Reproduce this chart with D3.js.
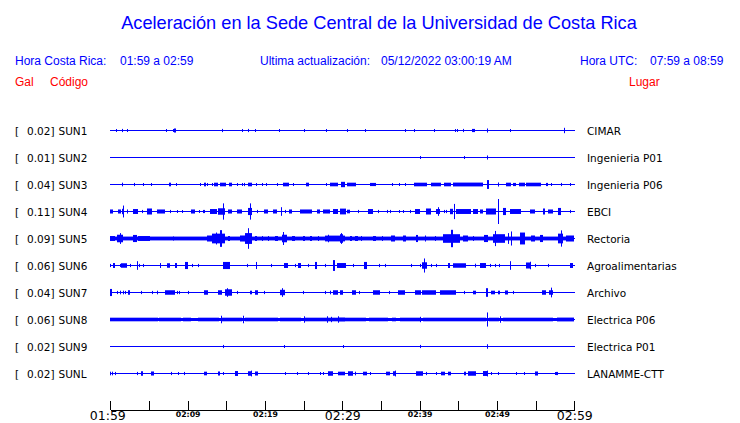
<!DOCTYPE html>
<html><head><meta charset="utf-8">
<script src="https://cdn.jsdelivr.net/npm/d3@7"></script>
<style>
html,body{margin:0;padding:0;background:#fff;}
svg{display:block;}
</style></head>
<body>
<script>
// ---- data ----
const stationCodes = ["SUN1","SUN2","SUN3","SUN4","SUN5","SUN6","SUN7","SUN8","SUN9","SUNL"];
const stationGal = ["0.02","0.01","0.04","0.11","0.09","0.06","0.04","0.06","0.02","0.02"];
const stationPlaces = ["CIMAR","Ingenieria P01","Ingenieria P06","EBCI","Rectoria","Agroalimentarias","Archivo","Electrica P06","Electrica P01","LANAMME-CTT"];
const tickMinutes = [0,5,10,15,20,25,30,35,40,45,50,55,60];
const tickLabels = ["01:59","","02:09","","02:19","","02:29","","02:39","","02:49","","02:59"];
const majorLabels = ["01:59","02:29","02:59"];

// bursts: [start minute, end minute, amplitude (gal)]
const sun1 = [[0.7,0.7,0.008],[1.5,1.7,0.01],[2.1,2.1,0.008],[7.24,7.24,0.008],[8.06,8.06,0.008],[8.3,8.5,0.014],
 [14.47,14.47,0.01],[16.98,16.98,0.008],[17.83,17.83,0.01],[18.73,18.73,0.008],[21.83,21.83,0.008],[24.99,24.99,0.006],
 [27.91,27.91,0.006],[30.62,30.62,0.008],[32.95,32.95,0.008],[38.11,38.11,0.006],[39.28,39.28,0.008],[41.91,41.91,0.006],
 [44.63,44.63,0.008],[44.84,44.84,0.008],[45.6,45.8,0.01],[46.8,47.1,0.01],[48.7,48.8,0.014],[51.68,51.68,0.008],[58.66,58.66,0.02]];
const sun2 = [[40.05,40.05,0.008],[45.74,45.74,0.005],[48.7,48.8,0.014]];
const sun3 = [[1.5,1.7,0.012],[3.0,3.0,0.01],[4.26,4.26,0.006],[5.3,5.3,0.006],[7.6,7.8,0.012],[8.53,8.53,0.006],[11.55,11.55,0.008],
 [12.1,12.4,0.012],[12.53,12.53,0.008],[13.1,13.1,0.008],[13.44,13.88,0.012],[14.17,14.91,0.012],[15.34,15.76,0.012],
 [16.33,16.33,0.008],[16.98,16.98,0.008],[17.27,17.4,0.01],[17.83,18.27,0.012],[18.79,18.79,0.008],[19.56,19.56,0.008],
 [20.16,20.16,0.006],[21.5,21.5,0.008],[22.27,23.13,0.012],[23.57,23.57,0.008],[25.32,25.67,0.012],[27.91,27.91,0.008],
 [28.42,29.46,0.012],[29.8,30.32,0.02],[30.62,31.83,0.012],[33.64,34.33,0.01],[36.43,36.43,0.006],[37.34,37.34,0.006],
 [38.11,38.11,0.008],[39.24,40.96,0.012],[41.52,42.82,0.012],[43.15,44.11,0.012],[44.32,48.19,0.013],[48.67,48.93,0.036],
 [50.13,50.13,0.014],[51.21,51.86,0.012],[52.07,52.51,0.01],[52.84,53.58,0.012],[53.8,55.74,0.012],[56.38,56.59,0.01],
 [57.03,57.03,0.008],[58.32,58.32,0.01],[59.4,59.4,0.008]];
const sun4 = [[0,0.39,0.014],[0.96,1.38,0.014],[1.55,1.81,0.02],[1.65,1.7,0.05],[2.12,2.33,0.014],[2.97,3.62,0.018],[4.06,4.06,0.01],
 [4.7,5.35,0.023],[5.99,7.07,0.014],[7.71,7.71,0.01],[8.58,8.58,0.008],[9.3,9.3,0.008],[10.43,10.94,0.014],[11.5,11.5,0.008],
 [12.02,12.24,0.01],[12.88,13.75,0.018],[13.95,14.82,0.025],[14.55,14.7,0.07],[15.25,15.68,0.014],[16.33,17.05,0.014],
 [17.75,18.27,0.028],[18.05,18.15,0.07],[18.91,18.91,0.01],[19.9,20.41,0.014],[21.06,21.5,0.014],[22.01,22.22,0.035],
 [22.57,22.57,0.01],[23.09,23.51,0.014],[24.51,26.02,0.014],[26.67,27.09,0.014],[27.52,28.39,0.014],[28.81,29.46,0.018],
 [29.7,30.5,0.022],[30.58,30.97,0.012],[32.04,32.04,0.01],[33.33,33.98,0.018],[34.63,34.63,0.01],[35.79,35.79,0.01],
 [36.14,36.14,0.01],[37.34,37.34,0.008],[37.86,37.86,0.008],[38.72,38.72,0.01],[39.37,40.01,0.018],[40.79,41.52,0.023],
 [42.17,42.69,0.018],[42.43,42.43,0.035],[43.11,43.11,0.01],[43.46,43.46,0.01],[43.89,44.32,0.02],[44.45,44.55,0.065],
 [44.75,46.69,0.018],[46.9,47.55,0.018],[47.77,48.19,0.014],[48.63,49.92,0.023],[50.13,50.13,0.11],[50.78,51.22,0.028],
 [51.64,53.15,0.018],[54.23,54.87,0.014],[55.95,56.16,0.023],[56.59,57.24,0.014],[57.88,58.32,0.028],[59.4,59.4,0.01]];
const sun5 = [[0,60,0.013],[0,0.61,0.018],[0.83,1.68,0.03],[1.2,1.3,0.045],[2.97,3.41,0.028],[3.62,5.13,0.018],[8.14,8.14,0.014],
 [12.46,13.1,0.023],[13.1,14.82,0.04],[14.25,14.4,0.072],[13.7,13.8,0.05],[15.25,15.47,0.018],[16.76,17.4,0.023],[17.4,18.27,0.045],
 [17.8,17.9,0.09],[18.7,18.91,0.018],[19.56,19.56,0.018],[20.41,20.41,0.018],[21.28,21.71,0.018],[22.14,22.79,0.03],
 [22.35,22.45,0.055],[23.44,23.86,0.018],[24.94,25.16,0.018],[25.8,26.02,0.018],[26.87,26.87,0.018],[27.74,30.32,0.022],
 [28.17,28.17,0.03],[29.8,29.8,0.045],[29.64,30.1,0.035],[30.97,31.19,0.018],[31.62,32.04,0.018],[32.48,32.48,0.018],
 [33.98,34.42,0.018],[35.07,35.07,0.018],[36.36,36.78,0.023],[37.86,38.3,0.023],[39.59,39.8,0.028],[40.66,40.66,0.023],
 [41.95,41.95,0.018],[43.02,45.18,0.035],[44.1,44.3,0.075],[45.61,46.25,0.023],[46.9,46.9,0.018],[48.28,48.84,0.028],
 [49.48,50.99,0.035],[49.7,49.85,0.065],[51.42,51.42,0.045],[51.86,51.86,0.06],[52.94,53.58,0.05],[54.44,54.87,0.023],
 [55.52,55.95,0.028],[57.88,58.53,0.04],[58.25,58.35,0.07],[58.97,60,0.023]];
const sun6 = [[0,0,0.01],[0.39,0.61,0.018],[1.25,1.25,0.01],[1.38,2.12,0.016],[2.55,2.55,0.01],[3.41,3.41,0.035],[3.71,3.71,0.01],
 [4.26,4.26,0.01],[6.42,6.42,0.018],[7.29,7.71,0.016],[8.36,8.58,0.018],[9.65,10.08,0.028],[10.59,10.59,0.01],[11.37,11.37,0.01],
 [14.6,15.47,0.028],[17.62,17.62,0.01],[18.79,18.99,0.028],[20.76,20.76,0.01],[22.44,23.0,0.018],[23.86,23.86,0.01],
 [24.21,24.64,0.018],[25.58,25.58,0.01],[26.45,26.75,0.028],[27.74,27.74,0.01],[28.81,29.03,0.045],[29.25,30.5,0.018],
 [31.4,31.4,0.01],[32.78,33.13,0.028],[34.75,34.75,0.01],[35.58,35.58,0.01],[38.94,38.94,0.01],[40.01,40.01,0.01],
 [40.36,40.96,0.025],[40.62,40.72,0.06],[41.52,41.52,0.01],[42.08,42.08,0.01],[43.67,43.89,0.018],[44.32,46.05,0.016],
 [47.12,47.34,0.012],[47.77,48.63,0.018],[49.06,49.06,0.01],[49.7,49.7,0.01],[50.26,50.26,0.01],[51.64,51.86,0.035],
 [53.8,54.44,0.023],[54.23,54.23,0.03],[54.87,54.87,0.01],[56.59,56.59,0.01],[59.4,59.82,0.018]];
const sun7 = [[0,0.26,0.028],[0.83,0.83,0.01],[1.25,1.25,0.012],[1.68,1.68,0.012],[1.9,1.9,0.01],[2.33,2.55,0.016],[3.97,3.97,0.01],
 [5.35,5.35,0.01],[5.99,6.2,0.012],[7.07,8.36,0.016],[8.58,8.58,0.01],[8.88,8.88,0.01],[10.0,10.0,0.01],[12.14,12.66,0.016],
 [13.95,14.39,0.016],[14.82,15.68,0.025],[15.12,15.12,0.035],[16.33,16.33,0.01],[18.05,18.27,0.012],[18.7,19.12,0.016],
 [19.9,19.9,0.01],[21.93,22.57,0.02],[22.14,22.14,0.035],[24.94,24.94,0.01],[27.74,27.74,0.01],[28.39,28.6,0.012],
 [28.81,29.46,0.016],[29.67,30.1,0.016],[31.19,31.83,0.016],[32.17,32.17,0.01],[33.98,34.85,0.016],[36.05,36.05,0.01],
 [37.21,38.08,0.016],[39.37,40.23,0.016],[40.36,42.17,0.016],[42.6,44.75,0.016],[45.7,45.7,0.01],[46.9,47.34,0.012],
 [48.63,48.84,0.035],[49.28,49.7,0.012],[50.13,50.35,0.012],[50.99,51.42,0.014],[52.07,52.07,0.01],[55.87,56.38,0.016],
 [56.68,57.24,0.016],[57.03,57.03,0.04]];
const sun8 = [[0,60,0.009],[0,6.2,0.012],[6.3,9.2,0.012],[9.4,10.5,0.012],[11.4,14.0,0.012],[14.26,14.3,0.03],[14.4,17.0,0.012],
 [17.2,17.2,0.03],[17.4,21.7,0.012],[21.9,24.7,0.012],[25.0,25.0,0.025],[25.2,30.3,0.012],[27.96,27.96,0.025],[28.6,28.6,0.02],
 [29.46,29.46,0.025],[29.6,33.1,0.012],[33.5,35.9,0.012],[36.4,37.0,0.012],[37.4,40.0,0.012],[40.0,40.0,0.02],[40.4,48.6,0.012],
 [48.7,48.9,0.06],[49.0,50.3,0.012],[50.35,50.35,0.025],[50.8,57.2,0.012],[57.7,60,0.013]];
const sun9 = [[14.6,14.6,0.01],[22.48,22.48,0.008],[30.1,30.1,0.005],[40.01,40.01,0.01],[48.65,48.8,0.016]];
const sunl = [[0,0,0.012],[0.18,0.18,0.012],[0.61,0.61,0.01],[3.41,3.41,0.01],[3.97,4.26,0.016],[5.26,5.68,0.014],[7.84,7.84,0.01],
 [8.71,8.71,0.008],[9.56,9.56,0.01],[12.14,12.46,0.012],[13.95,14.17,0.014],[14.6,14.6,0.008],[16.11,16.54,0.018],
 [17.83,18.27,0.016],[18.14,18.14,0.022],[18.7,19.12,0.014],[22.57,22.57,0.008],[24.08,24.08,0.008],[25.58,25.58,0.008],
 [27.09,27.09,0.008],[27.52,27.52,0.008],[28.17,28.81,0.016],[29.46,30.32,0.012],[30.75,31.4,0.016],[31.62,31.83,0.012],
 [32.69,33.13,0.012],[33.64,33.64,0.008],[35.71,36.14,0.012],[36.56,37.0,0.016],[36.78,36.78,0.022],[39.59,40.44,0.016],
 [40.79,40.79,0.01],[42.17,42.17,0.008],[42.82,43.24,0.012],[43.67,44.11,0.012],[45.7,46.05,0.012],[46.25,47.34,0.016],
 [48.19,48.84,0.018],[48.73,48.73,0.022],[49.28,49.28,0.008],[50.13,50.13,0.008],[52.51,52.51,0.008],[53.45,53.45,0.008],
 [54.87,55.3,0.014],[57.45,57.45,0.008],[57.67,57.88,0.01]];
const stationEvents = [sun1,sun2,sun3,sun4,sun5,sun6,sun7,sun8,sun9,sunl];

// ---- drawing ----
const W = 740, H = 423;
const BLUE = "#0000ff", RED = "#ff0000";
const svg = d3.select("body").append("svg").attr("width", W).attr("height", H);
const sans = "'Liberation Sans', Arial, Helvetica, sans-serif";
const dv = "'DejaVu Sans', Verdana, sans-serif";

svg.append("text").attr("x", 379).attr("y", 29).attr("text-anchor", "middle")
  .attr("font-family", sans).attr("font-size", 18.2).attr("fill", BLUE)
  .text("Aceleración en la Sede Central de la Universidad de Costa Rica");

const header = [
  {x: 15, t: "Hora Costa Rica:"}, {x: 120, t: "01:59 a 02:59"},
  {x: 260, t: "Ultima actualización:"}, {x: 381, t: "05/12/2022 03:00:19 AM"},
  {x: 580, t: "Hora UTC:"}, {x: 650, t: "07:59 a 08:59"}
];
svg.selectAll("text.hdr").data(header).enter().append("text").attr("class","hdr")
  .attr("x", d => d.x).attr("y", 64.5).attr("font-family", sans).attr("font-size", 12)
  .attr("fill", BLUE).text(d => d.t);
const red = [{x: 15, t: "Gal"}, {x: 50, t: "Código"}, {x: 629, t: "Lugar"}];
svg.selectAll("text.red").data(red).enter().append("text").attr("class","red")
  .attr("x", d => d.x).attr("y", 85.5).attr("font-family", sans).attr("font-size", 12)
  .attr("fill", RED).text(d => d.t);

const x = d3.scaleLinear().domain([0, 60]).range([110.3, 574.3]);
const y = d3.scalePoint().domain(stationCodes).range([130, 373]);
const amp = d3.scaleLinear().domain([0, 0.11]).range([0, 12]);

const rows = svg.selectAll("g.row").data(stationCodes).enter().append("g").attr("class", "row");

rows.append("text").attr("x", 15).attr("y", d => y(d) + 4.5).attr("font-family", dv).attr("font-size", 10.5)
  .attr("fill", "#000").text("[");
rows.append("text").attr("x", 54.5).attr("y", d => y(d) + 4.5).attr("text-anchor", "end").attr("font-family", dv)
  .attr("font-size", 10.5).attr("fill", "#000").text((d, i) => stationGal[i] + "]");
rows.append("text").attr("x", 58.5).attr("y", d => y(d) + 4.5).attr("font-family", dv).attr("font-size", 10.5)
  .attr("fill", "#000").text(d => d);
rows.append("text").attr("x", 587).attr("y", d => y(d) + 4.5).attr("font-family", dv).attr("font-size", 10.5)
  .attr("fill", "#000").text((d, i) => stationPlaces[i]);

// baseline traces
rows.append("rect").attr("x", Math.round(x(0))).attr("width", Math.round(x(60)) - Math.round(x(0)) + 1)
  .attr("y", d => y(d)).attr("height", 1).attr("fill", BLUE).attr("shape-rendering", "crispEdges");

// bursts
rows.each(function (code, i) {
  d3.select(this).selectAll("rect.ev").data(stationEvents[i]).enter().append("rect").attr("class", "ev")
    .attr("fill", BLUE)
    .attr("x", d => Math.round(x(d[0])))
    .attr("width", d => Math.max(1, Math.round(x(d[1])) - Math.round(x(d[0]))))
    .attr("y", d => y(code) - Math.max(1, amp(d[2])))
    .attr("height", d => 1 + 2 * Math.max(1, amp(d[2])));
});

// time axis
const axis = d3.axisBottom(x).tickValues(tickMinutes).tickSizeInner(-9).tickSizeOuter(0).tickPadding(2)
  .tickFormat((d, i) => tickLabels[i]);
const gx = svg.append("g").attr("transform", "translate(0,409.5)").call(axis);
gx.select(".domain").attr("stroke", "#000").attr("shape-rendering", "crispEdges");
gx.selectAll(".tick line").attr("stroke", "#000").attr("shape-rendering", "crispEdges");
const isMajor = d => majorLabels.includes(tickLabels[tickMinutes.indexOf(d)]);
gx.selectAll(".tick text").attr("font-family", dv).attr("fill", "#000")
  .attr("font-size", d => isMajor(d) ? 12.5 : 7.8)
  .attr("font-weight", d => isMajor(d) ? "normal" : "bold")
  .attr("dx", d => d === tickMinutes[0] ? -3 : 0)
  .attr("dy", d => isMajor(d) ? "0.66em" : "0.71em");
</script>
</body></html>
